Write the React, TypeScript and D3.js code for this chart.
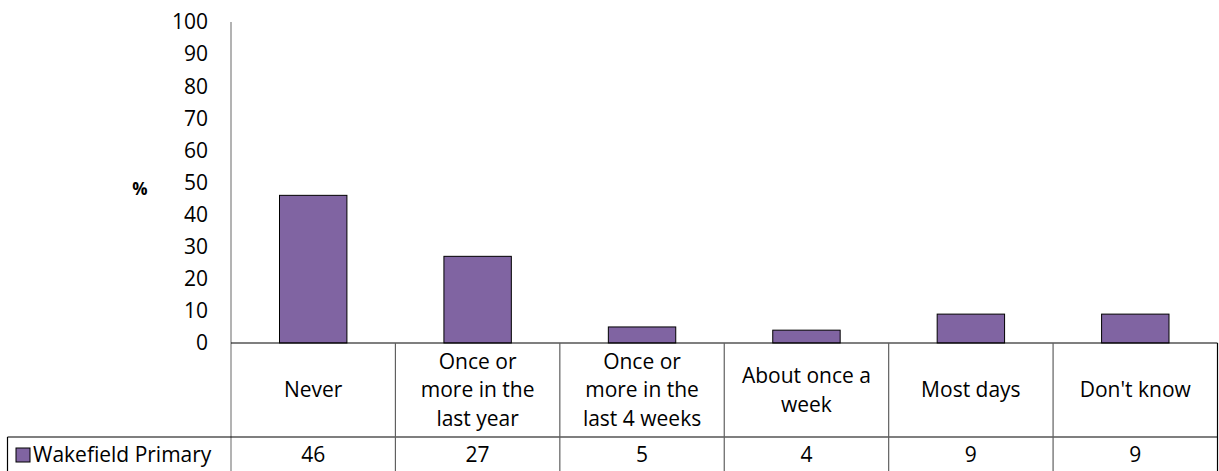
import React from "react";
import * as d3 from "d3";

const categories: string[][] = [
  ["Never"],
  ["Once or", "more in the", "last year"],
  ["Once or", "more in the", "last 4 weeks"],
  ["About once a", "week"],
  ["Most days"],
  ["Don't know"],
];
const seriesName = "Wakefield Primary";
const values = [46, 27, 5, 4, 9, 9];
const yTicks = [0, 10, 20, 30, 40, 50, 60, 70, 80, 90, 100];

const W = 1219;
const H = 471;
const FONT = "'Open Sans', sans-serif";
const PURPLE = "#8064a2";

export default function App() {
  const left = 231;
  const right = 1217.5;
  const top = 22;
  const base = 343;
  const rowDiv = 437;
  const bottom = 473;
  const legendLeft = 7.5;

  const x = d3
    .scaleBand<number>()
    .domain(values.map((_, i) => i))
    .range([left, right])
    .paddingInner(0)
    .paddingOuter(0);
  const y = d3.scaleLinear().domain([0, 100]).range([base, top]);
  const bw = x.bandwidth();
  const barW = bw * 0.41;

  const fs = 21;
  const lineH = 28.7;

  return (
    <svg
      width={W}
      height={H}
      style={{ position: "absolute", left: 0, top: 0, background: "#fff" }}
      fontFamily={FONT}
    >
      {/* y axis tick labels */}
      {yTicks.map((t) => (
        <text
          key={t}
          x={208}
          y={y(t)}
          dy="0.35em"
          textAnchor="end"
          fontSize={fs}
          fill="#000"
        >
          {t}
        </text>
      ))}
      <text
        x={140}
        y={189}
        dy="0.35em"
        textAnchor="middle"
        fontSize={17}
        fontWeight="bold"
        fill="#000"
      >
        %
      </text>

      {/* bars */}
      {values.map((v, i) => (
        <rect
          key={i}
          x={(x(i) as number) + (bw - barW) / 2}
          y={y(v)}
          width={barW}
          height={base - y(v)}
          fill={PURPLE}
          stroke="#000"
          strokeWidth={1}
        />
      ))}

      {/* axis line */}
      <line x1={left} x2={left} y1={top} y2={bottom} stroke="#808080" strokeWidth={1.2} />

      {/* table lines */}
      <line x1={left} x2={right} y1={base} y2={base} stroke="#000" strokeWidth={1.2} />
      <line x1={legendLeft} x2={right} y1={rowDiv} y2={rowDiv} stroke="#000" strokeWidth={1.2} />
      <line x1={legendLeft} x2={legendLeft} y1={rowDiv} y2={bottom} stroke="#000" strokeWidth={1.2} />
      <line x1={right} x2={right} y1={base} y2={bottom} stroke="#000" strokeWidth={1.2} />
      {values.slice(1).map((_, i) => (
        <line
          key={i}
          x1={x(i + 1) as number}
          x2={x(i + 1) as number}
          y1={base}
          y2={bottom}
          stroke="#606060"
          strokeWidth={1.2}
        />
      ))}

      {/* category labels */}
      {categories.map((lines, i) => {
        const cx = (x(i) as number) + bw / 2;
        const cy = (base + rowDiv) / 2;
        const start = cy - ((lines.length - 1) * lineH) / 2;
        return (
          <text key={i} textAnchor="middle" fontSize={fs} fill="#000">
            {lines.map((l, j) => (
              <tspan key={j} x={cx} y={start + j * lineH} dy="0.35em">
                {l}
              </tspan>
            ))}
          </text>
        );
      })}

      {/* legend cell */}
      <rect x={16} y={448} width={14} height={14} fill={PURPLE} stroke="#000" strokeWidth={1} />
      <text x={33} y={455} dy="0.35em" fontSize={fs} fill="#000">
        {seriesName}
      </text>

      {/* value row */}
      {values.map((v, i) => (
        <text
          key={i}
          x={(x(i) as number) + bw / 2}
          y={455}
          dy="0.35em"
          textAnchor="middle"
          fontSize={fs}
          fill="#000"
        >
          {v}
        </text>
      ))}
    </svg>
  );
}
